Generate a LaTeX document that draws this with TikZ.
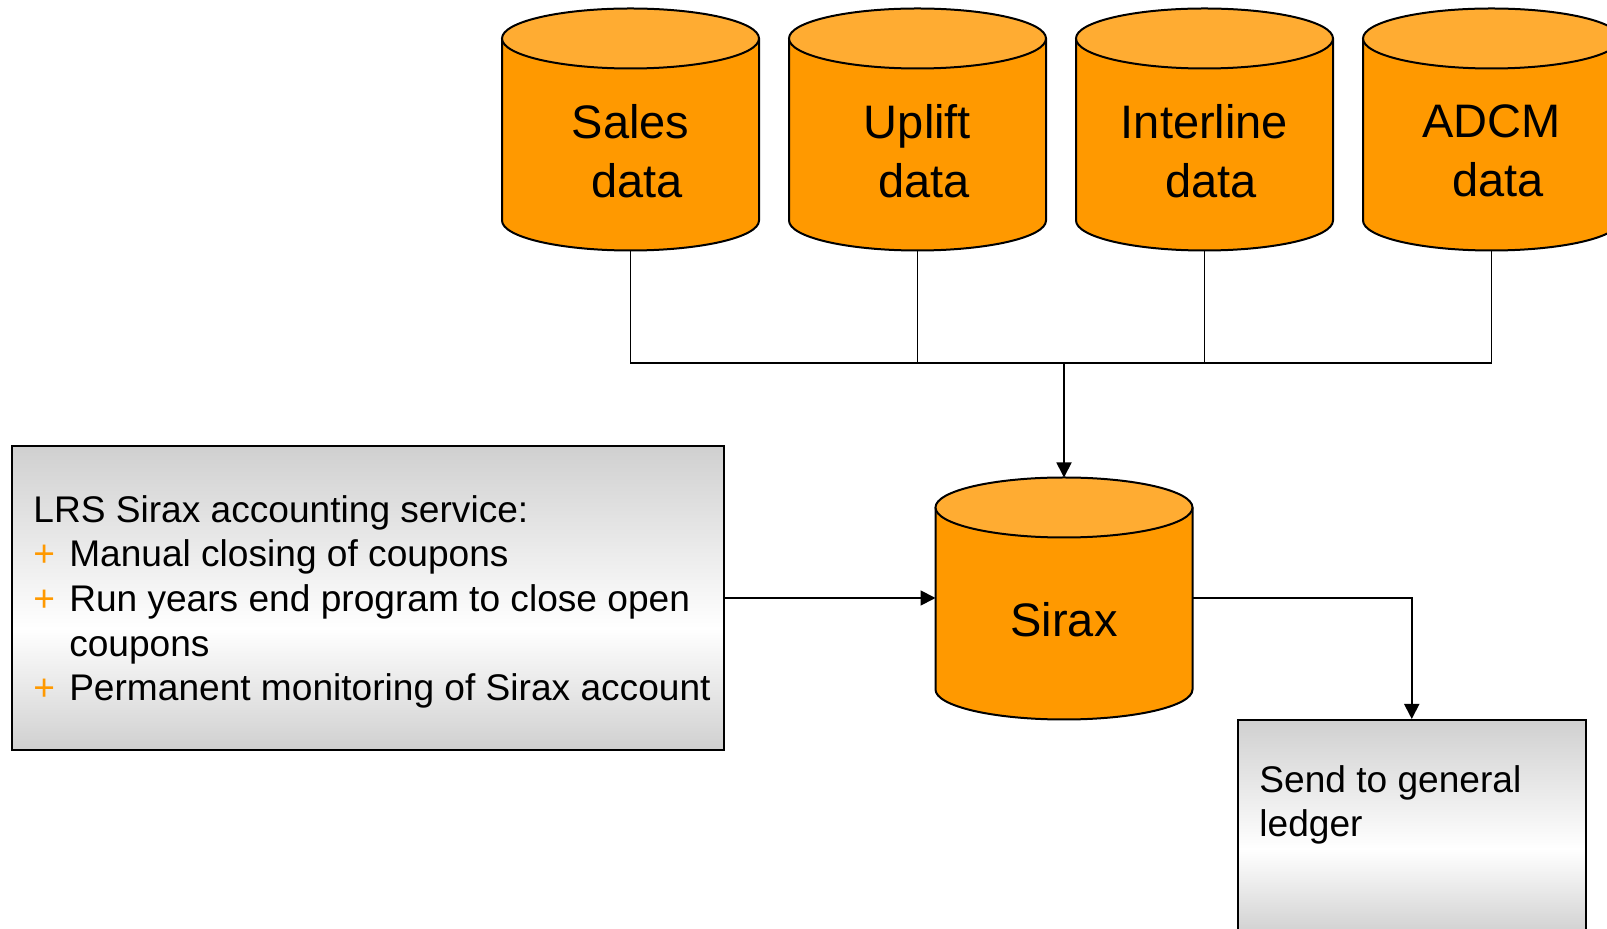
\documentclass[tikz,border=0pt]{standalone}
\usepackage{fontspec}
\setmainfont{Liberation Sans}
\usepackage{tikz}
\usetikzlibrary{arrows.meta,shapes}
\tikzset{>={Triangle[length=7.5pt,width=7.5pt]}}

\definecolor{cylside}{RGB}{255,153,0}
\definecolor{cyltopc}{RGB}{255,172,50}
\definecolor{boxgray}{RGB}{208,208,208}
\definecolor{plusorange}{RGB}{255,153,0}

\pgfdeclareverticalshading{boxgrad}{100bp}{color(0bp)=(boxgray); color(25bp)=(boxgray);
  color(45bp)=(white); color(75bp)=(boxgray); color(100bp)=(boxgray)}

\tikzset{
  cylbody/.style={fill=cylside},
  cylline/.style={line width=1pt},
  cyllabel/.style={align=center, inner sep=0pt, font=\fontsize{23.5}{29.5}\selectfont},
  greybox/.style={draw, line width=1pt, shade, shading=boxgrad, inner sep=0pt},
  boxtext/.style={align=left, inner sep=0pt, font=\fontsize{18.55}{22.3}\selectfont},
  link/.style={line width=0.9pt}
}

% one data store: name, centre x, y of the top rim, label
\newcommand{\dbcyl}[4]{%
  \fill[cylbody] (#2-128.5,#3) rectangle (#2+128.5,#3+182);
  \fill[cylbody] (#2,#3+182) ellipse [x radius=128.5, y radius=30];
  \draw[cylline] (#2-128.5,#3) -- (#2-128.5,#3+182)
    arc [start angle=180, end angle=0, x radius=128.5, y radius=30] -- (#2+128.5,#3);
  \draw[cylline, fill=cyltopc] (#2,#3) ellipse [x radius=128.5, y radius=30];
  \node[cyllabel] (#1) at (#2,#3+112.5) {#4};
  \coordinate (#1-top) at (#2,#3-30);
  \coordinate (#1-bot) at (#2,#3+212);
  \coordinate (#1-w) at (#2-128.5,#3+90.5);
  \coordinate (#1-e) at (#2+128.5,#3+90.5);
}
\newcommand{\plusitem}{\makebox[17.9pt][l]{\textcolor{plusorange}{+}}}
\newcommand{\dline}{\hspace*{6.5pt}data}

\begin{document}
\begin{tikzpicture}[x=0.5pt,y=-0.5pt]
    \useasboundingbox (0,0) rectangle (1607,929);
    \clip (0,0) rectangle (1607,929);

    % data stores
    \dbcyl{sales}{630.5}{38.5}{Sales\\\dline}
    \dbcyl{uplift}{917.5}{38.5}{Uplift\\\dline}
    \dbcyl{interline}{1204.5}{38.5}{Interline\\\dline}
    \dbcyl{adcm}{1491.5}{38.5}{ADCM\\\dline}
    \dbcyl{sirax}{1064}{507.5}{Sirax}

    % boxes
    \node[greybox, minimum width=355.65pt, minimum height=151.7pt] (lrs) at (368,598) {};
    \node[boxtext, anchor=west] (lrstext) at ([xshift=10.85pt,yshift=-2pt]lrs.west)
        {LRS Sirax accounting service:\\
         \plusitem Manual closing of coupons\\
         \plusitem Run years end program to close open\\
         \hspace*{17.9pt}coupons\\
         \plusitem Permanent monitoring of Sirax account};
    \node[greybox, minimum width=173.75pt, minimum height=107.5pt] (ledger) at (1411.75,827.5) {};
    \node[boxtext, anchor=north west] (ledgertext) at ([xshift=11pt,yshift=-23pt]ledger.north west)
        {Send to general\\ledger};

    % connectors
    \coordinate (bus) at (1064,363);
    \draw[link] (sales-bot) |- (adcm-bot |- bus) -- (adcm-bot);
    \foreach \s in {uplift,interline}
        \draw[link] (\s-bot) -- (\s-bot |- bus);
    \draw[link,->] (bus) -- (sirax-top);
    \draw[link,->] (lrs.east) -- (sirax-w);
    \draw[link,->] (sirax-e) -| (ledger.north);
\end{tikzpicture}
\end{document}
